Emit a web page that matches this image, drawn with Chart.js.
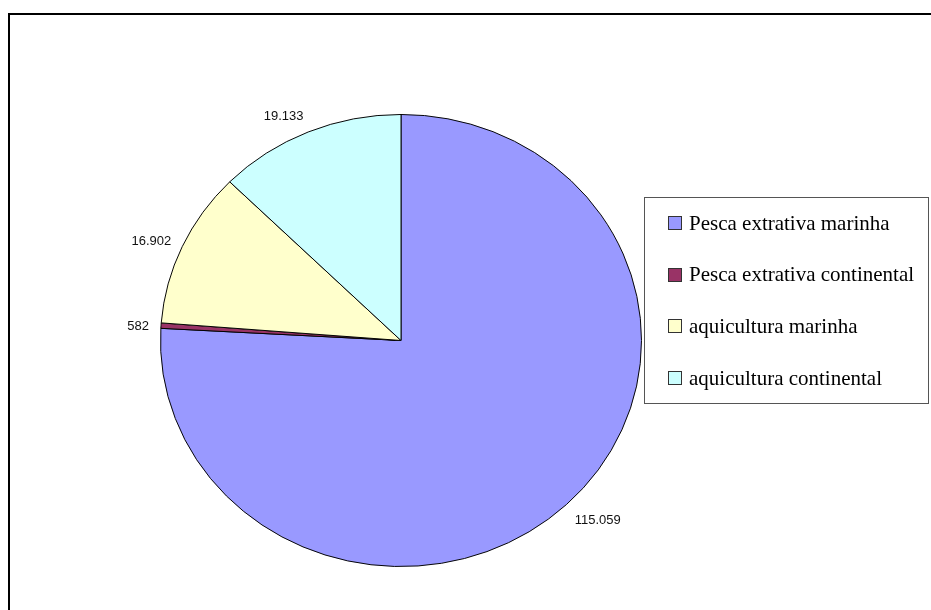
<!DOCTYPE html>
<html>
<head>
<meta charset="utf-8">
<script src="https://cdn.jsdelivr.net/npm/chart.js@4/dist/chart.umd.min.js"></script>
<style>
  html, body { margin: 0; padding: 0; background: #ffffff; }
  #wrap { position: relative; width: 931px; height: 610px; }
</style>
</head>
<body>
<div id="wrap"><canvas id="c" width="931" height="610"></canvas></div>
<script>
// ---- data ----
const categories = ['Pesca extrativa marinha', 'Pesca extrativa continental', 'aquicultura marinha', 'aquicultura continental'];
const values = [115059, 582, 16902, 19133];
const sliceColors = ['#9999FF', '#993366', '#FFFFCC', '#CCFFFF'];

function fmtBR(v) {
  return String(v).replace(/\B(?=(\d{3})+(?!\d))/g, '.');
}

const ELLIPSE_K = 226.5 / 241; // vertical squash of the pie

const squashPlugin = {
  id: 'squash',
  beforeDatasetsDraw(chart) {
    const meta = chart.getDatasetMeta(0);
    const a = meta.data[0];
    const ctx = chart.ctx;
    ctx.save();
    ctx.translate(a.x, a.y);
    ctx.scale(1, ELLIPSE_K);
    ctx.translate(-a.x, -a.y);
  },
  afterDatasetsDraw(chart) {
    chart.ctx.restore();
  }
};

const labelPlugin = {
  id: 'sliceLabels',
  afterDatasetsDraw(chart) {
    const ctx = chart.ctx;
    const meta = chart.getDatasetMeta(0);
    const ds = chart.data.datasets[0];
    ctx.save();
    ctx.font = '13px "Liberation Sans", Arial, sans-serif';
    ctx.fillStyle = '#111';
    ctx.textBaseline = 'middle';
    const h = 13;
    meta.data.forEach((arc, i) => {
      const mid = (arc.startAngle + arc.endAngle) / 2;
      const c = Math.cos(mid), s = Math.sin(mid);
      const R = arc.outerRadius;
      const px = arc.x + c * (R + 12);
      const py = arc.y + s * (R * ELLIPSE_K + 12);
      const txt = fmtBR(ds.data[i]);
      if (c < -0.1) ctx.textAlign = 'right';
      else if (c > 0.1) ctx.textAlign = 'left';
      else ctx.textAlign = 'center';
      ctx.fillText(txt, px, py + s * h / 2 + 2);
    });
    ctx.restore();
  }
};

const framePlugin = {
  id: 'frame',
  beforeDraw(chart) {
    const ctx = chart.ctx;
    ctx.save();
    ctx.fillStyle = '#ffffff';
    ctx.fillRect(0, 0, chart.width, chart.height);
    ctx.strokeStyle = '#000';
    ctx.lineWidth = 2;
    ctx.strokeRect(9, 14, 1000, 1000);
    ctx.restore();
  }
};

const legendBoxPlugin = {
  id: 'legendBox',
  afterDraw(chart) {
    const ctx = chart.ctx;
    const labels = chart.data.labels;
    const cols = chart.data.datasets[0].backgroundColor;
    const left = 644.5, top = 197.5, right = 928.5, bottom = 403.5;
    ctx.save();
    ctx.strokeStyle = '#555';
    ctx.lineWidth = 1;
    ctx.strokeRect(left, top, right - left, bottom - top);
    ctx.font = '21px "Liberation Serif", "Times New Roman", serif';
    ctx.textBaseline = 'middle';
    ctx.textAlign = 'left';
    labels.forEach((lab, i) => {
      const cy = 223 + i * 51.7;
      ctx.fillStyle = cols[i];
      ctx.fillRect(668, Math.round(cy - 7), 14, 14);
      ctx.strokeStyle = '#333';
      ctx.strokeRect(668.5, Math.round(cy - 7) + 0.5, 13, 13);
      ctx.fillStyle = '#000';
      ctx.fillText(lab, 689, cy + 1);
    });
    ctx.restore();
  }
};

new Chart(document.getElementById('c'), {
  type: 'pie',
  data: {
    labels: categories,
    datasets: [{
      data: values,
      backgroundColor: sliceColors,
      borderColor: '#000',
      borderWidth: 1,
      hoverOffset: 0
    }]
  },
  options: {
    responsive: false,
    animation: false,
    events: [],
    layout: { padding: { left: 160, right: 289, top: 99.5, bottom: 28.5 } },
    plugins: {
      legend: { display: false },
      tooltip: { enabled: false },
      title: { display: false }
    }
  },
  plugins: [framePlugin, squashPlugin, labelPlugin, legendBoxPlugin]
});
</script>
</body>
</html>
